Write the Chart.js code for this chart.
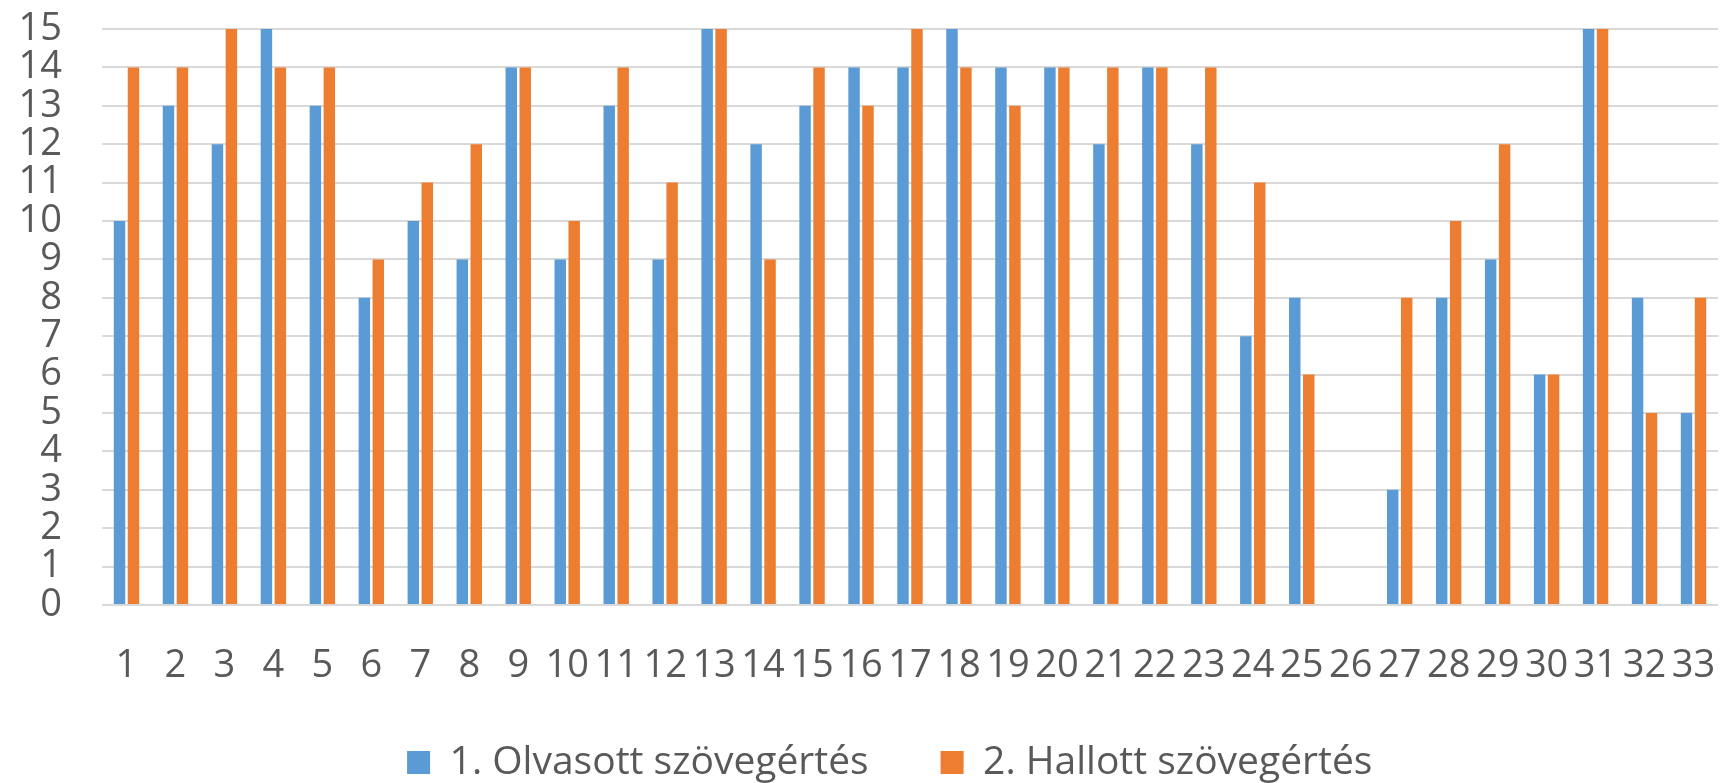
<!DOCTYPE html>
<html>
<head>
<meta charset="utf-8">
<script src="https://cdn.jsdelivr.net/npm/chart.js@4"></script>
<style>
html,body{margin:0;padding:0;background:#fff;}
#wrap{width:1724px;height:783px;position:relative;overflow:hidden;}
</style>
</head>
<body>
<div id="wrap"><canvas id="c" width="1724" height="783"></canvas></div>
<script>
const categories = ["1","2","3","4","5","6","7","8","9","10","11","12","13","14","15","16","17","18","19","20","21","22","23","24","25","26","27","28","29","30","31","32","33"];
const seriesNames = ["1. Olvasott szövegértés", "2. Hallott szövegértés"];
const olvasott = [10,13,12,15,13,8,10,9,14,9,13,9,15,12,13,14,14,15,14,14,12,14,12,7,8,0,3,8,9,6,15,8,5];
const hallott  = [14,14,15,14,14,9,11,12,14,10,14,11,15,9,14,13,15,14,13,14,14,14,14,11,6,0,8,10,12,6,15,5,8];
const yTicks = [0,1,2,3,4,5,6,7,8,9,10,11,12,13,14,15];

const FONT = "'Open Sans', 'Segoe UI', sans-serif";
const GRAY = "#595959";

new Chart(document.getElementById('c'), {
  type: 'bar',
  data: {
    labels: categories,
    datasets: [
      { label: seriesNames[0], data: olvasott, backgroundColor: '#5B9BD5', borderWidth: 0,
        categoryPercentage: 0.57, barPercentage: 0.82 },
      { label: seriesNames[1], data: hallott, backgroundColor: '#ED7D31', borderWidth: 0,
        categoryPercentage: 0.57, barPercentage: 0.82 }
    ]
  },
  options: {
    responsive: false,
    animation: false,
    layout: { padding: { left: 14, right: 6, top: 29, bottom: -9 } },
    plugins: {
      tooltip: { enabled: false },
      legend: {
        position: 'bottom',
        fullSize: false,
        labels: {
          boxWidth: 23, boxHeight: 23, padding: 1,
          color: GRAY,
          font: { family: FONT, size: 39 },
          generateLabels(chart) {
            const items = Chart.defaults.plugins.legend.labels.generateLabels(chart);
            items[0].text = seriesNames[0] + '\u00A0'.repeat(7);
            items[1].text = seriesNames[1] + '\u00A0'.repeat(4);
            return items;
          }
        }
      }
    },
    scales: {
      x: {
        grid: { display: false, drawTicks: false },
        border: { display: false },
        ticks: { color: GRAY, font: { family: FONT, size: 38 }, padding: 38,
                 autoSkip: false, maxRotation: 0, minRotation: 0 },
        afterFit(s) { s.height = 137; s.paddingLeft = 0; s.paddingRight = 0; }
      },
      y: {
        min: 0, max: 15,
        afterBuildTicks(s) { s.ticks = yTicks.map(v => ({ value: v })); },
        grid: { color: '#D9D9D9', lineWidth: 2, drawTicks: false },
        border: { display: false },
        ticks: { color: GRAY, font: { family: FONT, size: 38 }, padding: 40, autoSkip: false },
        afterFit(s) { s.width = 88; s.paddingTop = 0; s.paddingBottom = 0; }
      }
    }
  }
});
</script>
</body>
</html>
